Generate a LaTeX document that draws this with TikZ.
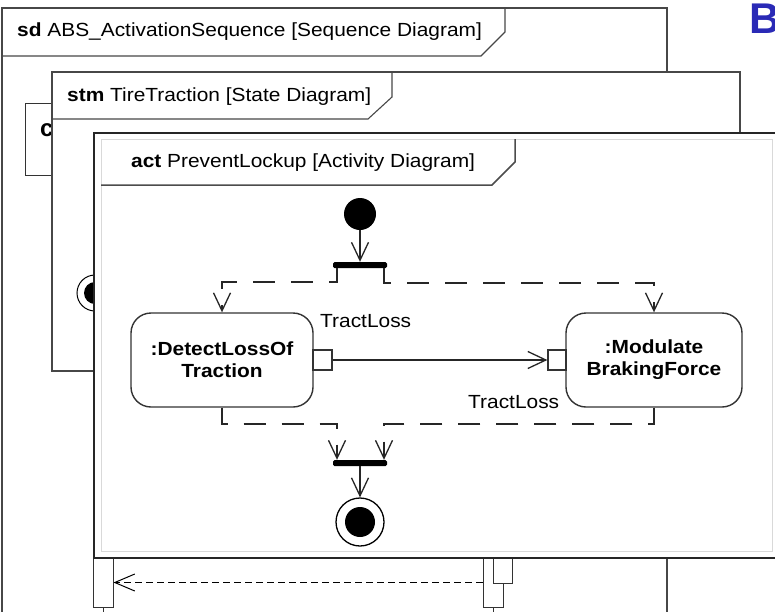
\documentclass[tikz,border=0pt]{standalone}
\usepackage{fontspec}
\setmainfont{Liberation Sans}
\usepackage{graphicx}
\usetikzlibrary{arrows.meta,calc}
\newcommand{\hs}[1]{\scalebox{1.1}[1]{#1}}
\definecolor{bigblue}{RGB}{42,42,182}
\begin{document}
\begin{tikzpicture}[x=1pt,y=-1pt,
  frame/.style={draw=black!72,line width=1.1pt,fill=white},
  tabedge/.style={draw=black!72,line width=1.1pt},
  txt/.style={inner sep=0pt,font=\fontsize{19}{22}\selectfont},
  action/.style={draw=black!80,line width=1.4pt,rounded corners=20pt,fill=white,inner sep=0pt,align=center,font=\fontsize{19}{22}\selectfont\bfseries},
  pinbox/.style={draw=black!80,line width=1.3pt,fill=white,minimum width=19pt,minimum height=20pt,inner sep=0pt},
  barnode/.style={fill=black,rounded corners=1.5pt,minimum width=54pt,minimum height=6pt,inner sep=0pt},
  initnode/.style={circle,fill=black,minimum size=32pt,inner sep=0pt},
  flow/.style={draw=black!85,line width=1.3pt,-{Straight Barb[length=18pt,width=17pt,line width=1.3pt]}},
  dflow/.style={flow,dash pattern=on 22pt off 16pt},
  life/.style={draw=black!80,line width=1pt,fill=white,inner sep=0pt},
  msg/.style={draw=black,line width=1.2pt,dash pattern=on 7pt off 4pt,-{Straight Barb[length=20pt,width=17pt,line width=1pt]}},
]
\useasboundingbox (0,0) rectangle (775,611);
\clip (0,0) rectangle (775,611);
\fill[white] (0,0) rectangle (775,611);

% sequence diagram frame
\draw[frame] (2,8) rectangle (667,660);
\draw[tabedge] (2,56) -- (481,56) -- (505,32) -- (505,8);
\node[txt,anchor=base west] (sdtitle) at (17,36) {\hs{\textbf{sd} ABS\_ActivationSequence [Sequence Diagram]}};

% partially hidden lifeline head
\node[draw=black!80,line width=1.1pt,fill=white,minimum width=100pt,minimum height=72pt,anchor=north west,inner sep=0pt] (cbox) at (25,103) {};
\node[txt,anchor=base west,font=\fontsize{24}{26}\selectfont\bfseries] (ctext) at (40,136) {c};

% state diagram frame
\draw[frame] (52,72) rectangle (740,371);
\draw[tabedge] (52,119) -- (368,119) -- (392,97) -- (392,72);
\node[txt,anchor=base west] (stmtitle) at (67,101) {\hs{\textbf{stm} TireTraction [State Diagram]}};
\node[circle,draw=black,line width=1pt,minimum size=36pt,fill=white,inner sep=0pt] (stmfinal) at (95,293) {};
\node[circle,fill=black,minimum size=22pt,inner sep=0pt] (stmfinalin) at (stmfinal) {};

% lifeline activations below
\node[life,minimum width=20pt,minimum height=49pt] (lact) at (103,582.5) {};
\node[life,minimum width=20pt,minimum height=49pt] (mact) at (493,582.5) {};
\node[life,minimum width=19pt,minimum height=25pt] (sact) at (502.5,570.5) {};
\draw[black!80,line width=1pt] (lact.south) -- ++(0,10);
\draw[black!80,line width=1pt] (mact.south) -- ++(0,10);
\draw[msg] (mact.west) -- (lact.east);

% activity diagram frame
\draw[black!85,line width=2.5pt,fill=white] (94,133) rectangle (800,558);
\draw[black!15,line width=1pt] (101,139) rectangle (772,551);
\draw[black!70,line width=1.5pt] (101,185) -- (492,185) -- (515,162) -- (515,139);
\node[txt,anchor=base west] (acttitle) at (131,167) {\hs{\textbf{act} PreventLockup [Activity Diagram]}};

% activity content
\node[initnode] (init) at (360,214) {};
\node[barnode] (fork) at (360,265) {};
\node[action,minimum width=182pt,minimum height=94pt] (detect) at (222,360) {\hs{:DetectLossOf}\\\hs{Traction}};
\node[action,minimum width=176pt,minimum height=94pt] (modul) at (654,360) {\hs{:Modulate}\\\hs{BrakingForce}};
\node[pinbox] (pout) at (322.5,360) {};
\node[pinbox,minimum width=18pt] (pin) at (557,360) {};
\node[txt,anchor=base west] (lbl1) at (320,327) {\hs{TractLoss}};
\node[txt,anchor=base west] (lbl2) at (468,408) {\hs{TractLoss}};
\node[barnode] (join) at (360,463) {};
\node[circle,draw=black,line width=1.3pt,minimum size=48pt,fill=white,inner sep=0pt] (final) at (360,522) {};
\node[circle,fill=black,minimum size=30pt,inner sep=0pt] (finalin) at (final) {};

\coordinate (fl) at (337,282);
\coordinate (fr) at (384,283);
\coordinate (jl) at (337,424);
\coordinate (jr) at (384,424);

\draw[flow] (init) -- (fork);
\draw[dflow] (fork.south -| fl) -- (fl) -| (detect.north);
\draw[dflow] (fork.south -| fr) -- (fr) -| (modul.north);
\draw[flow] (pout.east) -- (pin.west);
\draw[dflow] (detect.south) |- (jl) -- (join.north -| jl);
\draw[dflow] (modul.south) |- (jr) -- (join.north -| jr);
\draw[flow] (join) -- (final);

% big letter
\node[anchor=base west,inner sep=0pt,text=bigblue,font=\fontsize{43}{43}\selectfont\bfseries] (bigB) at (749,33) {B};
\end{tikzpicture}
\end{document}
